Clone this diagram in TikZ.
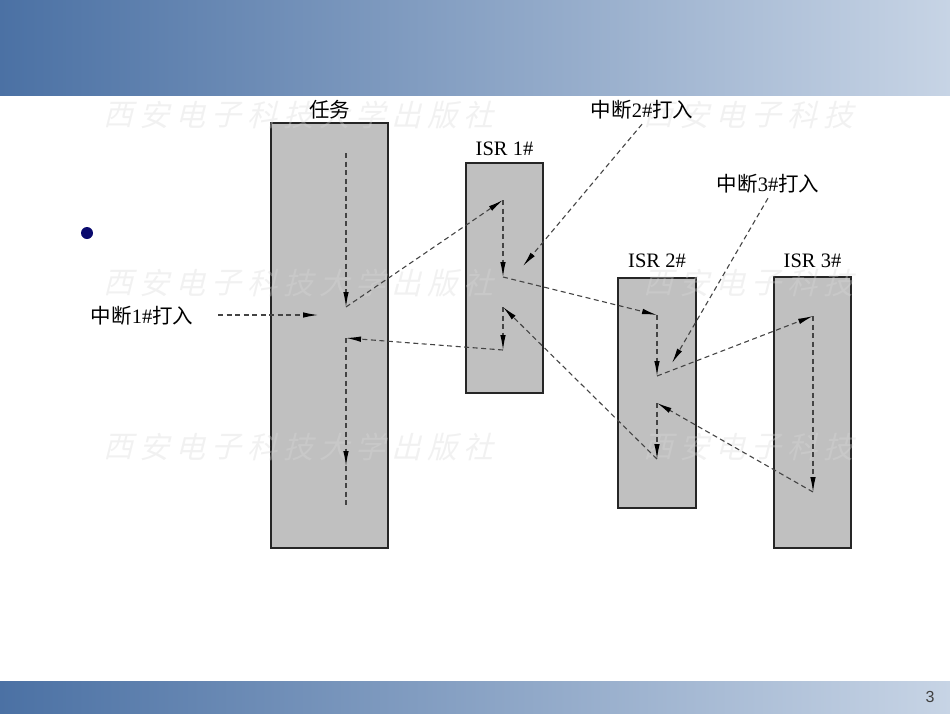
\documentclass[tikz,border=0pt]{standalone}
\usepackage{fontspec}
\setmainfont{Liberation Serif}
\newfontfamily\cjk{Noto Sans CJK SC}
\newfontfamily\wmfont[FakeSlant=0.25]{Noto Sans CJK SC}
\newfontfamily\numfont{Liberation Sans}
\usepackage{tikz}
\usetikzlibrary{positioning,arrows.meta}
\definecolor{bandleft}{HTML}{4B71A4}
\definecolor{bandright}{HTML}{C7D4E5}
\definecolor{boxgray}{HTML}{C0C0C0}
\definecolor{boxline}{HTML}{262626}
\definecolor{flowgray}{HTML}{444444}
\definecolor{navy}{HTML}{0A0A6E}
\definecolor{wmgray}{HTML}{D8D8D8}
\tikzset{>={Latex[length=15pt,width=5.5pt,color=black]}}

\begin{document}
\begin{tikzpicture}[x=1pt,y=-1pt]
    \tikzset{
    isrbox/.style={draw=boxline, fill=boxgray, line width=1.6pt, inner sep=0pt},
    boxlabel/.style={font=\fontsize{20.5}{24}\selectfont, text height=14pt, text depth=4pt, inner sep=3pt},
    flowline/.style={draw=flowgray, line width=1.1pt, dash pattern=on 5pt off 3.5pt},
    flow/.style={flowline, ->},
    watermark/.style={font=\wmfont\fontsize{30}{30}\selectfont, text=wmgray, text opacity=0.35, inner sep=0pt},
    }
    \useasboundingbox (0,0) rectangle (950,713);

    % Slide bands.
    \shade [left color=bandleft, right color=bandright] (0,0) rectangle (950,95);
    \shade [left color=bandleft, right color=bandright] (0,681) rectangle (950,713);
    \node [font=\numfont\fontsize{16}{18}\selectfont, text=black!75] (pagenum) at (930,697) {3};
    \node [circle, fill=navy, minimum size=12pt, inner sep=0pt] (bullet) at (87,233) {};

    % Boxes.
    \node [isrbox, minimum width=117, minimum height=425] (task) at (329.5,335.5) {};
    \node [isrbox, minimum width=77,  minimum height=230] (isr1) at (504.5,278) {};
    \node [isrbox, minimum width=78,  minimum height=230] (isr2) at (657,393) {};
    \node [isrbox, minimum width=77,  minimum height=271] (isr3) at (812.5,412.5) {};

    % Watermark.
    \foreach \row in {115,283,447}{
      \foreach \ch [count=\k from 0] in {西,安,电,子,科,技,大,学,出,版,社}
        \node [watermark] (wmL-\row-\k) at (118+36*\k,\row) {\ch};
      \foreach \ch [count=\k from 0] in {西,安,电,子,科,技}
        \node [watermark] (wmR-\row-\k) at (658+36*\k,\row) {\ch};
    }

    % Labels.
    \node [boxlabel, above=-2pt of task] (tasklabel) {\cjk 任务};
    \node [boxlabel, above=0pt of isr1] (isr1label) {ISR 1\#};
    \node [boxlabel, above=3pt of isr2] (isr2label) {ISR 2\#};
    \node [boxlabel, above=2pt of isr3] (isr3label) {ISR 3\#};
    \node [boxlabel] (int1) at (142,318) {{\cjk 中断}1\#{\cjk 打入}};
    \node [boxlabel] (int2) at (642,112) {{\cjk 中断}2\#{\cjk 打入}};
    \node [boxlabel] (int3) at (768,186) {{\cjk 中断}3\#{\cjk 打入}};

    % Flow points.
    \coordinate (t1) at (346,153); % task start
    \coordinate (t2) at (346,307); % task interrupted
    \coordinate (t3) at (346,338); % task resumed
    \coordinate (tm) at (346,466);
    \coordinate (t4) at (346,508);
    \coordinate (a1) at (503,200);
    \coordinate (a2) at (503,277);
    \coordinate (a3) at (503,307);
    \coordinate (a4) at (503,350);
    \coordinate (b1) at (657,315);
    \coordinate (b2) at (657,376);
    \coordinate (b3) at (657,403);
    \coordinate (b4) at (657,459);
    \coordinate (c1) at (813,316);
    \coordinate (c2) at (813,492);
    \coordinate (i1s) at (218,315);
    \coordinate (i1e) at (318,315);
    \coordinate (i2e) at (523,266);
    \coordinate (i3e) at (672,363);

    % Interrupt requests.
    \draw [flow] (i1s) -- (i1e);
    \draw [flow] (int2.south) -- (i2e);
    \draw [flow] (int3.south) -- (i3e);

    % Execution path.
    \draw [flow] (t1) -- (t2);
    \draw [flow] (t2) -- (a1);
    \draw [flow] (a1) -- (a2);
    \draw [flow] (a2) -- (b1);
    \draw [flow] (b1) -- (b2);
    \draw [flow] (b2) -- (c1);
    \draw [flow] (c1) -- (c2);
    \draw [flow] (c2) -- (b3);
    \draw [flow] (b3) -- (b4);
    \draw [flow] (b4) -- (a3);
    \draw [flow] (a3) -- (a4);
    \draw [flow] (a4) -- (t3);
    \draw [flow] (t3) -- (tm);
    \draw [flowline] (tm) -- (t4);
\end{tikzpicture}
\end{document}
